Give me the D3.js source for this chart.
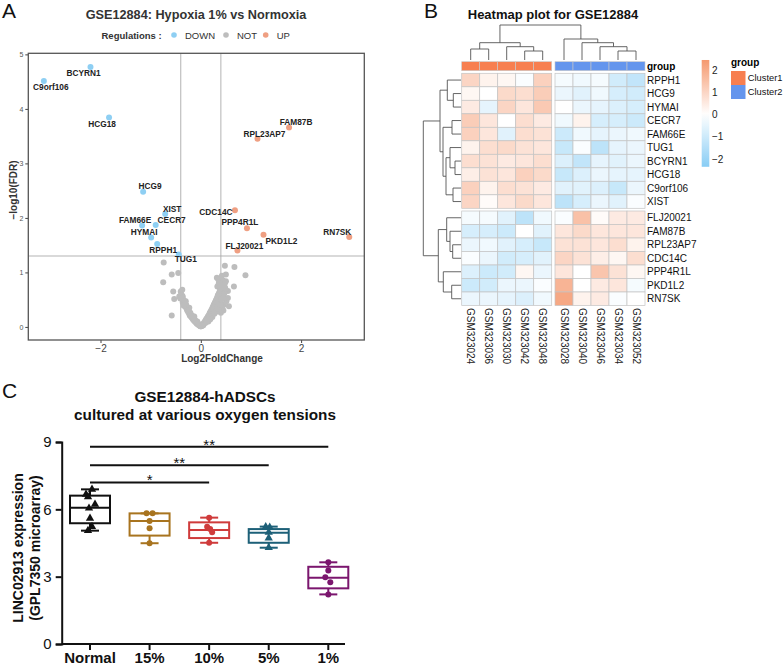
<!DOCTYPE html>
<html><head><meta charset="utf-8">
<script src="https://cdn.jsdelivr.net/npm/d3@7"></script>
<style>body{margin:0;background:#fff}svg{display:block;font-family:"Liberation Sans",Arial,sans-serif}</style>
</head><body><svg id="c" width="784" height="665"></svg>
<script>
// ================= Panel A data (volcano) =================
const genesDown = ["BCYRN1","C9orf106","HCG18","HCG9","XIST","FAM66E","CECR7","HYMAI","RPPH1","TUG1"];
const lfcDown = [-2.20,-3.13,-1.83,-1.15,-0.71,-1.17,-0.90,-0.99,-0.87,-0.44];
const fdrDown = [4.77,4.51,3.84,2.48,2.07,1.86,1.87,1.64,1.52,1.33];
const genesUp = ["FAM87B","RPL23AP7","CDC14C","PPP4R1L","PKD1L2","FLJ20021","RN7SK"];
const lfcUp = [1.76,1.13,0.68,0.92,1.25,0.73,2.96];
const fdrUp = [3.66,3.45,2.14,1.81,1.69,1.40,1.65];
const notLfc = [-0.74,-0.75,-0.58,-0.45,-0.55,-0.37,-0.53,-0.43,-0.58,0.48,0.67,0.89,0.66,0.50,0.32,0.40,0.46,0.56,0.51,0.44,0.42,0.48,0.46,0.44,0.38,0.42,
 0.35,0.50,0.40,0.45,0.33,0.54,0.46,0.43,0.54,0.36,0.30,0.23,0.17,
 -0.40,-0.36,-0.30,-0.23,-0.13,-0.07,0.00,
 -0.39,-0.38,-0.37,-0.35,-0.36,-0.33,-0.31,-0.30,-0.28,-0.27,-0.25,-0.23,-0.22,-0.20,-0.18,-0.16,-0.14,-0.12,-0.10,-0.08,-0.06,-0.04,-0.02,-0.01,-0.32,-0.29,-0.26,-0.24,-0.21,-0.19,-0.17,-0.15,-0.13,-0.11,-0.09,-0.07,-0.05,-0.03,-0.41,-0.34,
 0.01,0.02,0.04,0.06,0.08,0.10,0.12,0.14,0.16,0.18,0.20,0.22,0.24,0.26,0.28,0.30,0.32,0.34,0.36,0.38,0.40,0.42,0.44,0.05,0.09,0.13,0.17,0.21,0.25,0.29,0.33,0.37,0.41,0.45,0.47,0.49,0.43,0.45,0.40,0.15,0.23,0.31,0.35,0.39,0.27,0.19,0.11,0.03,0.48,0.47,0.36,0.39];
const notFdr = [1.18,0.82,0.96,0.99,0.65,0.68,0.51,0.56,0.21,1.12,1.10,0.95,0.74,0.96,0.90,0.26,0.41,0.38,0.47,0.85,0.80,0.72,0.63,0.66,0.88,0.94,
 0.87,0.84,0.81,0.76,0.74,0.66,0.62,0.56,0.53,0.41,0.32,0.23,0.13,
 0.65,0.56,0.47,0.35,0.19,0.10,0.01,
 0.60,0.58,0.54,0.50,0.45,0.44,0.40,0.36,0.33,0.30,0.27,0.24,0.21,0.19,0.17,0.14,0.12,0.10,0.08,0.06,0.05,0.03,0.02,0.01,0.47,0.40,0.35,0.30,0.26,0.22,0.20,0.17,0.15,0.12,0.10,0.08,0.06,0.04,0.52,0.39,
 0.01,0.03,0.05,0.07,0.10,0.13,0.16,0.19,0.22,0.26,0.29,0.33,0.37,0.41,0.45,0.49,0.53,0.58,0.62,0.67,0.72,0.78,0.84,0.03,0.07,0.12,0.17,0.22,0.28,0.33,0.38,0.44,0.50,0.56,0.62,0.70,0.36,0.30,0.30,0.10,0.18,0.28,0.33,0.40,0.24,0.14,0.09,0.02,0.80,0.74,0.80,0.76];
const xTicksA = [-2,0,2];
const yTicksA = [0,1,2,3,4,5];
const regLevels = ["DOWN","NOT","UP"];
const lfcCut = 0.4, fdrCut = 1.301;

// ================= Panel B data (heatmap) =================
const hmRows = ["RPPH1","HCG9","HYMAI","CECR7","FAM66E","TUG1","BCYRN1","HCG18","C9orf106","XIST","FLJ20021","FAM87B","RPL23AP7","CDC14C","PPP4R1L","PKD1L2","RN7SK"];
const hmCols = ["GSM323024","GSM323036","GSM323030","GSM323042","GSM323048","GSM323028","GSM323040","GSM323046","GSM323034","GSM323052"];
const hmColGroup = ["Cluster1","Cluster1","Cluster1","Cluster1","Cluster1","Cluster2","Cluster2","Cluster2","Cluster2","Cluster2"];
const hmValues = [
 [ 1.0, 0.3, 0.2,-0.1, 1.1, -0.2,-0.3,-0.2,-0.9,-1.2],
 [ 0.2, 0.0, 0.9, 0.8, 1.2, -0.4,-0.6,-0.3,-0.8,-0.9],
 [ 0.5,-0.5, 1.0, 0.6, 1.3,  0.0,-0.4,-0.5,-0.7,-0.8],
 [ 1.2, 0.6, 0.0, 0.8, 0.5, -0.3, 0.3,-0.8,-0.8,-1.0],
 [ 1.1, 0.6,-0.6, 0.8, 0.7, -1.0,-0.3,-0.5,-0.4,-0.3],
 [ 0.3, 0.8, 0.9, 0.7, 0.6, -1.1,-0.1,-1.3,-0.5,-0.4],
 [ 0.8, 0.7, 0.5, 0.6, 0.8, -0.7,-1.2,-0.5,-0.6,-0.4],
 [ 0.4, 0.7, 0.6, 1.1, 0.9, -1.1,-0.7,-0.4,-0.5,-0.5],
 [ 1.1, 0.3, 0.8, 0.7, 0.5, -0.6,-0.6,-0.7,-1.1,-0.4],
 [ 1.0, 0.1, 0.6, 0.9, 0.6, -1.3,-0.8,-0.4,-0.6,-0.1],
 [-0.2,-0.2,-0.6,-1.3,-0.3, -0.1, 1.5, 0.1, 0.5, 0.5],
 [-0.8,-0.8,-1.0, 0.0,-0.6,  0.6, 0.9, 0.6, 0.6, 0.6],
 [-0.4,-0.3,-0.6,-0.8,-1.1,  0.7, 0.7, 0.6, 0.8, 0.3],
 [-0.1,-0.4,-0.9,-0.8,-0.6,  1.0, 0.7, 0.4, 0.2, 0.8],
 [-0.7,-1.0,-0.9, 0.2,-0.4,  0.6, 0.0, 1.4, 0.7, 0.2],
 [-1.0,-0.9,-0.4,-0.4,-0.1,  1.8, 0.0, 0.5, 0.6,-0.2],
 [-0.4,-0.4,-0.5,-0.7,-0.3,  2.1, 0.3, 0.5,-0.1, 0.0]
];
const hmLegendTicks = [2,1,0,-1,-2];
const hmGroupNames = ["Cluster1","Cluster2"];
// dendrogram merge heights
const rowTree = {h:37.7,c:[
  {h:21,c:[{h:13.7,c:["RPPH1",{h:7.7,c:["HCG9","HYMAI"]}]},
           {h:18,c:[{h:9,c:["CECR7","FAM66E"]},{h:15,c:[{h:11,c:["TUG1",{h:6,c:["BCYRN1","HCG18"]}]},{h:8,c:["C9orf106","XIST"]}]}]}]},
  {h:22.7,c:[{h:14.3,c:["FLJ20021",{h:11,c:["FAM87B",{h:8.3,c:["RPL23AP7","CDC14C"]}]}]},
             {h:17.7,c:["PPP4R1L",{h:9.3,c:["PKD1L2","RN7SK"]}]}]}]};
const colTree = {h:35,c:[
  {h:17.3,c:[{h:11,c:["GSM323024","GSM323036"]},{h:13.3,c:["GSM323030",{h:9,c:["GSM323042","GSM323048"]}]}]},
  {h:21,c:["GSM323028",{h:17.3,c:["GSM323040",{h:13.3,c:["GSM323046",{h:9,c:["GSM323034","GSM323052"]}]}]}]}]};

// ================= Panel C data (boxplots) =================
const oxCats = ["Normal","15%","10%","5%","1%"];
const oxMin = [5.05,4.49,4.51,4.29,2.21];
const oxQ1  = [5.38,4.83,4.72,4.51,2.48];
const oxMed = [6.07,5.48,5.08,4.96,2.95];
const oxQ3  = [6.61,5.82,5.42,5.12,3.44];
const oxMax = [6.89,5.82,5.63,5.23,3.64];
const oxPoints = [
 [6.89,6.67,6.56,6.22,6.05,5.60,5.23,5.05],
 [5.82,5.82,5.48,5.16,4.49],
 [5.63,5.22,5.12,4.98,4.51],
 [5.22,5.20,4.98,4.72,4.29],
 [3.64,3.27,2.97,2.75,2.21]];
const oxShape = ["triangle","circle","circle","triangle","circle"];
const yTicksC = [0,3,6,9];
const sigTests = [["Normal","10%","*",7.2],["Normal","5%","**",7.96],["Normal","1%","**",8.79]];

// ================= layout / style =================
const svg = d3.select("#c");
const F = '"Liberation Sans",Arial,sans-serif';
const regColor = {DOWN:"#8ecff3", NOT:"#bdbdbd", UP:"#ef9f82"};
// panel letters
[["A",2,18],["B",424,18],["C",2,398]].forEach(([t,x,y])=>svg.append("text").attr("x",x).attr("y",y).attr("font-size",21).attr("fill","#111").text(t));

// ---------- Panel A ----------
(function(){
  const g = svg.append("g");
  const L=28.3,R=364.3,T=53.3,B=340;
  const x = d3.scaleLinear().domain([-3.44,3.26]).range([L,R]);
  const y = d3.scaleLinear().domain([-0.24,5.02]).range([B,T]);
  g.append("text").attr("x",196).attr("y",19).attr("text-anchor","middle").attr("font-weight","bold").attr("font-size",12.7).attr("fill","#333").text("GSE12884: Hypoxia 1% vs Normoxia");
  // legend
  g.append("text").attr("x",101.5).attr("y",38.5).attr("font-weight","bold").attr("font-size",9.5).attr("fill","#333").text("Regulations :");
  const legX = [174,226,265.7];
  regLevels.forEach((r,i)=>{
    g.append("circle").attr("cx",legX[i]).attr("cy",35).attr("r",2.8).attr("fill",regColor[r]);
    g.append("text").attr("x",legX[i]+11).attr("y",38.5).attr("font-size",9.5).attr("fill","#333").text(r);
  });
  // axes ticks
  const ya = g.append("g").attr("transform",`translate(${L},0)`).call(d3.axisLeft(y).tickValues(yTicksA).tickSize(3).tickPadding(2).tickFormat(d3.format("d")));
  ya.select(".domain").remove();
  ya.selectAll("line").attr("stroke","#444");
  ya.selectAll("text").attr("font-size",7).attr("fill","#555").attr("font-family",F);
  const xa = g.append("g").attr("transform",`translate(0,${B})`).call(d3.axisBottom(x).tickValues(xTicksA).tickSize(3).tickPadding(2).tickFormat(d=>d<0?"\u2212"+Math.abs(d):d));
  xa.select(".domain").remove();
  xa.selectAll("line").attr("stroke","#444");
  xa.selectAll("text").attr("font-size",10).attr("fill","#444").attr("font-family",F);
  // threshold lines
  g.append("line").attr("x1",x(-lfcCut)).attr("x2",x(-lfcCut)).attr("y1",T).attr("y2",B).attr("stroke","#aaa").attr("stroke-width",0.9);
  g.append("line").attr("x1",x(lfcCut)).attr("x2",x(lfcCut)).attr("y1",T).attr("y2",B).attr("stroke","#aaa").attr("stroke-width",0.9);
  g.append("line").attr("x1",L).attr("x2",R).attr("y1",y(fdrCut)).attr("y2",y(fdrCut)).attr("stroke","#aaa").attr("stroke-width",0.9);
  // points
  const notPts = notLfc.map((v,i)=>[v,notFdr[i]]);
  g.selectAll(".np").data(notPts).enter().append("circle").attr("cx",d=>x(d[0])).attr("cy",d=>y(d[1])).attr("r",3).attr("fill",regColor.NOT);
  const dn = genesDown.map((n,i)=>({n,x:lfcDown[i],y:fdrDown[i],r:"DOWN"}));
  const up = genesUp.map((n,i)=>({n,x:lfcUp[i],y:fdrUp[i],r:"UP"}));
  const sig = dn.concat(up);
  g.selectAll(".sp").data(sig).enter().append("circle").attr("cx",d=>x(d.x)).attr("cy",d=>y(d.y)).attr("r",3).attr("fill",d=>regColor[d.r]);
  // label nudges (layout only)
  const nudge = {BCYRN1:[-7,6],C9orf106:[7,6],HCG18:[-7,6],FAM87B:[7,-5],RPL23AP7:[7,-5],HCG9:[7,-6],XIST:[7,-5],FAM66E:[-7,-5],CECR7:[16,-5],HYMAI:[-7,-5],RPPH1:[6,6],TUG1:[7,5],CDC14C:[-19,2],PPP4R1L:[-7,-6],PKD1L2:[18,6],FLJ20021:[7,-5],RN7SK:[-12,-5]};
  g.selectAll(".lb").data(sig).enter().append("text").attr("x",d=>x(d.x)+nudge[d.n][0]).attr("y",d=>y(d.y)+nudge[d.n][1]).attr("dy","0.35em")
   .attr("text-anchor","middle").attr("font-weight","bold").attr("font-size",8.3).attr("fill","#222").text(d=>d.n);
  g.append("rect").attr("x",L).attr("y",T).attr("width",R-L).attr("height",B-T).attr("fill","none").attr("stroke","#555").attr("stroke-width",1.3);
  g.append("text").attr("x",222).attr("y",362).attr("text-anchor","middle").attr("font-weight","bold").attr("font-size",10).attr("fill","#333").text("Log2FoldChange");
  g.append("text").attr("transform","translate(17,190) rotate(-90)").attr("text-anchor","middle").attr("font-weight","bold").attr("font-size",10).attr("fill","#333").text("\u2212log10(FDR)");
})();

// ---------- Panel B ----------
(function(){
  const g = svg.append("g");
  const col = d3.scaleLinear().domain([-2.35,0,2.45]).range(["#88cdf5","#ffffff","#f5996f"]);
  const cw = 18, gapX = 3.3, x0 = 461.7;
  const rh = 13.5, gapY = 2.7, y0 = 73.3;
  const xb = d3.scaleBand().domain(hmCols).range([x0, x0+cw*hmCols.length]);
  const yb = d3.scaleBand().domain(hmRows).range([y0, y0+rh*hmRows.length]);
  const cx = c => xb(c) + (hmCols.indexOf(c)>=5?gapX:0);
  const ry = r => yb(r) + (hmRows.indexOf(r)>=10?gapY:0);
  g.append("text").attr("x",553).attr("y",19).attr("text-anchor","middle").attr("font-weight","bold").attr("font-size",13).attr("fill","#111").text("Heatmap plot for GSE12884");
  const grpCol = {Cluster1:"#f77f50",Cluster2:"#6495ed"};
  // group bar
  hmCols.forEach((c,i)=>g.append("rect").attr("x",cx(c)).attr("y",61.7).attr("width",cw).attr("height",9).attr("fill",grpCol[hmColGroup[i]]).attr("stroke","#c8c8c8").attr("stroke-width",0.6));
  g.append("text").attr("x",647).attr("y",66.5).attr("dy","0.35em").attr("font-weight","bold").attr("font-size",10).text("group");
  // cells
  hmRows.forEach((r,i)=>hmCols.forEach((c,j)=>{
    g.append("rect").attr("x",cx(c)).attr("y",ry(r)).attr("width",cw).attr("height",rh).attr("fill",col(hmValues[i][j])).attr("stroke","#c4c4c4").attr("stroke-width",0.7);
  }));
  hmRows.forEach(r=>g.append("text").attr("x",647).attr("y",ry(r)+rh/2).attr("dy","0.35em").attr("font-size",10).attr("fill","#111").text(r));
  hmCols.forEach(c=>g.append("text").attr("transform",`translate(${cx(c)+cw/2},308) rotate(90)`).attr("dy","0.35em").attr("font-size",10).attr("fill","#222").text(c));
  // dendrograms
  function walk(node, pos, paths){
    if(typeof node==="string") return {p:pos(node), h:0};
    const ch = node.c.map(n=>walk(n,pos,paths));
    const p = (ch[0].p+ch[1].p)/2;
    paths.push([ch[0],ch[1],node.h]);
    return {p, h:node.h};
  }
  const rp=[]; walk(rowTree, r=>ry(r)+rh/2, rp);
  const rs = d3.scaleLinear().domain([0,37.7]).range([461,423.3]);
  rp.forEach(([a,b,h])=>g.append("path").attr("d",`M${rs(a.h)},${a.p}H${rs(h)}V${b.p}H${rs(b.h)}`).attr("fill","none").attr("stroke","#555").attr("stroke-width",0.9));
  const cp=[]; walk(colTree, c=>cx(c)+cw/2, cp);
  const cs = d3.scaleLinear().domain([0,35]).range([60,25]);
  cp.forEach(([a,b,h])=>g.append("path").attr("d",`M${a.p},${cs(a.h)}V${cs(h)}H${b.p}V${cs(b.h)}`).attr("fill","none").attr("stroke","#555").attr("stroke-width",0.9));
  // colour legend
  const ly = d3.scaleLinear().domain([-2,2]).range([159,70]);
  const defs = svg.append("defs");
  const gr = defs.append("linearGradient").attr("id","hmg").attr("x1",0).attr("x2",0).attr("y1",1).attr("y2",0);
  d3.range(0,1.0001,0.1).forEach(t=>{const v=-2.35+t*4.8; gr.append("stop").attr("offset",t).attr("stop-color",col(v));});
  g.append("rect").attr("x",701.7).attr("y",ly(2.45)).attr("width",7.6).attr("height",ly(-2.35)-ly(2.45)).attr("fill","url(#hmg)");
  hmLegendTicks.forEach(v=>g.append("text").attr("x",712).attr("y",ly(v)).attr("dy","0.35em").attr("font-size",10).attr("fill","#222").text(v<0?"\u2212"+Math.abs(v):v));
  g.append("text").attr("x",731).attr("y",66).attr("font-weight","bold").attr("font-size",10).text("group");
  hmGroupNames.forEach((n,i)=>{
    g.append("rect").attr("x",731).attr("y",71+i*14).attr("width",14.5).attr("height",14).attr("fill",grpCol[n]);
    g.append("text").attr("x",747.8).attr("y",78+i*14).attr("dy","0.35em").attr("font-size",9.3).attr("fill","#111").text(n);
  });
})();

// ---------- Panel C ----------
(function(){
  const g = svg.append("g");
  const x = d3.scalePoint().domain(oxCats).range([90,328.3]);
  const y = d3.scaleLinear().domain([0,9]).range([644,442]);
  const bc = ["#111111","#a8741f","#cf3b3b","#1d6078","#7b166e"];
  const jitter = [[2,-4,-2,5,-1,0,2,-2],[-3,3,0,0,0],[0,-2,1,3,0],[-3,1,0,0,0],[0,0,-3,2,0]];
  g.append("text").attr("x",205).attr("y",402).attr("text-anchor","middle").attr("font-weight","bold").attr("font-size",15.3).attr("fill","#111").text("GSE12884-hADSCs");
  g.append("text").attr("x",205).attr("y",419.5).attr("text-anchor","middle").attr("font-weight","bold").attr("font-size",15.3).attr("fill","#111").text("cultured at various oxygen tensions");
  g.append("text").attr("transform","translate(23,548) rotate(-90)").attr("text-anchor","middle").attr("font-weight","bold").attr("font-size",14).attr("fill","#111").text("LINC02913 expression");
  g.append("text").attr("transform","translate(40,548) rotate(-90)").attr("text-anchor","middle").attr("font-weight","bold").attr("font-size",14).attr("fill","#111").text("(GPL7350 microarray)");
  const ya = g.append("g").attr("transform","translate(61.7,0)").call(d3.axisLeft(y).tickValues(yTicksC).tickSize(6).tickPadding(4));
  ya.select(".domain").attr("stroke","#111").attr("stroke-width",2);
  ya.selectAll("line").attr("stroke","#111").attr("stroke-width",2);
  ya.selectAll("text").attr("font-size",15).attr("fill","#111").attr("font-family",F);
  g.append("line").attr("x1",61.7).attr("x2",345).attr("y1",644).attr("y2",644).attr("stroke","#111").attr("stroke-width",2);
  oxCats.forEach(c=>{
    g.append("line").attr("x1",x(c)).attr("x2",x(c)).attr("y1",644).attr("y2",650).attr("stroke","#111").attr("stroke-width",2);
    g.append("text").attr("x",x(c)).attr("y",663).attr("text-anchor","middle").attr("font-weight","bold").attr("font-size",15).attr("fill","#111").text(c);
  });
  const bw = 40, cap = 18;
  oxCats.forEach((c,i)=>{
    const cxv = x(c), s = bc[i];
    const gg = g.append("g").attr("stroke",s).attr("stroke-width",2).attr("fill","none");
    gg.append("line").attr("x1",cxv).attr("x2",cxv).attr("y1",y(oxMax[i])).attr("y2",y(oxQ3[i]));
    gg.append("line").attr("x1",cxv).attr("x2",cxv).attr("y1",y(oxQ1[i])).attr("y2",y(oxMin[i]));
    gg.append("line").attr("x1",cxv-cap/2).attr("x2",cxv+cap/2).attr("y1",y(oxMax[i])).attr("y2",y(oxMax[i]));
    gg.append("line").attr("x1",cxv-cap/2).attr("x2",cxv+cap/2).attr("y1",y(oxMin[i])).attr("y2",y(oxMin[i]));
    gg.append("rect").attr("x",cxv-bw/2).attr("y",y(oxQ3[i])).attr("width",bw).attr("height",y(oxQ1[i])-y(oxQ3[i]));
    gg.append("line").attr("x1",cxv-bw/2).attr("x2",cxv+bw/2).attr("y1",y(oxMed[i])).attr("y2",y(oxMed[i]));
    oxPoints[i].forEach((v,k)=>{
      const px = cxv + jitter[i][k], py = y(v);
      if(oxShape[i]==="triangle") g.append("path").attr("d",d3.symbol(d3.symbolTriangle,30)()).attr("transform",`translate(${px},${py})`).attr("fill",s);
      else g.append("circle").attr("cx",px).attr("cy",py).attr("r",3).attr("fill",s);
    });
  });
  sigTests.forEach(([a,b,t,lv])=>{
    g.append("line").attr("x1",x(a)).attr("x2",x(b)).attr("y1",y(lv)).attr("y2",y(lv)).attr("stroke","#111").attr("stroke-width",2);
    g.append("text").attr("x",(x(a)+x(b))/2).attr("y",y(lv)+3).attr("text-anchor","middle").attr("font-size",15).attr("fill","#111").text(t);
  });
})();
</script></body></html>
